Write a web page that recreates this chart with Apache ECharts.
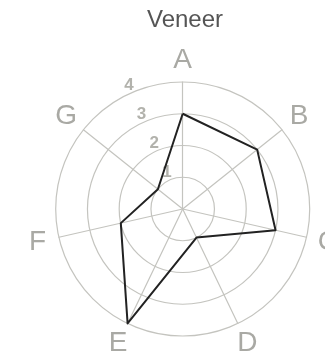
<!DOCTYPE html>
<html>
<head>
<meta charset="utf-8">
<script src="https://cdn.jsdelivr.net/npm/echarts@6/dist/echarts.min.js"></script>
<style>
  html, body { margin: 0; padding: 0; background: #fff; }
  #chart { width: 325px; height: 364px; }
</style>
</head>
<body>
<div id="chart"></div>
<script>
// Radar of the "Veneer" profile across seven attributes
const title = 'Veneer';
const categories = ['A', 'B', 'C', 'D', 'E', 'F', 'G'];
const values = [3, 3, 3, 1, 4, 2, 1];
const scaleMax = 4;
const tickLabels = [1, 2, 3, 4];

const center = [182.7, 209];
const gridColor = '#c4c4bf';
const textGray = '#a9a9a4';

// ECharts lays radar indicators out counter-clockwise; keep A on top and
// walk the rest in reverse so B..G run clockwise.
const order = [0].concat(categories.map((_, i) => i).slice(1).reverse());
const radarNames = order.map(i => categories[i]);
const radarValues = order.map(i => values[i]);

// Second, invisible radar that only carries the radial tick labels,
// offset from the A axis the way a polar r-label column sits.
const labelOffset = 0.25;
const labelStep = 0.25;

const chart = echarts.init(document.getElementById('chart'), null, { renderer: 'canvas' });

chart.setOption({
  animation: false,
  backgroundColor: '#fff',
  title: {
    text: title,
    left: 180,
    textAlign: 'center',
    top: 3,
    textStyle: { color: '#555', fontSize: 24, fontWeight: 'normal', fontFamily: 'Liberation Sans' }
  },
  radar: [
    {
      center: center,
      radius: 127,
      startAngle: 90,
      shape: 'circle',
      splitNumber: 4,
      indicator: radarNames.map(n => ({ name: n, min: 0, max: scaleMax })),
      axisName: {
        color: textGray,
        fontSize: 28,
        fontFamily: 'Liberation Sans',
        align: 'center',
        verticalAlign: 'middle'
      },
      nameGap: 22,
      splitLine: { lineStyle: { color: gridColor, width: 1.2 } },
      splitArea: { show: false },
      axisLine: { lineStyle: { color: gridColor, width: 1.2 } },
      axisTick: { show: false },
      axisLabel: { show: false }
    },
    {
      center: center,
      radius: 127 * (scaleMax + labelOffset) / scaleMax,
      startAngle: 90 + 23.5,
      shape: 'circle',
      splitNumber: Math.round((scaleMax + labelOffset) / labelStep),
      indicator: radarNames.map((n, i) => ({
        name: '',
        min: -labelOffset,
        max: scaleMax,
        axisLabel: { show: i === 0 }
      })),
      axisName: { show: false },
      splitLine: { show: false },
      splitArea: { show: false },
      axisLine: { show: false },
      axisTick: { show: false },
      axisLabel: {
        show: false,
        margin: 0,
        color: '#b2b2ac',
        fontSize: 17,
        fontWeight: 'bold',
        fontFamily: 'Liberation Sans',
        align: 'center',
        verticalAlign: 'middle',
        formatter: function (v) {
          const r = Math.round(v * 1000) / 1000;
          return tickLabels.indexOf(r) >= 0 ? String(r) : '';
        }
      }
    }
  ],
  series: [{
    type: 'radar',
    radarIndex: 0,
    symbol: 'none',
    lineStyle: { color: '#222', width: 2 },
    data: [{ value: radarValues, name: title }]
  }]
});
</script>
</body>
</html>
